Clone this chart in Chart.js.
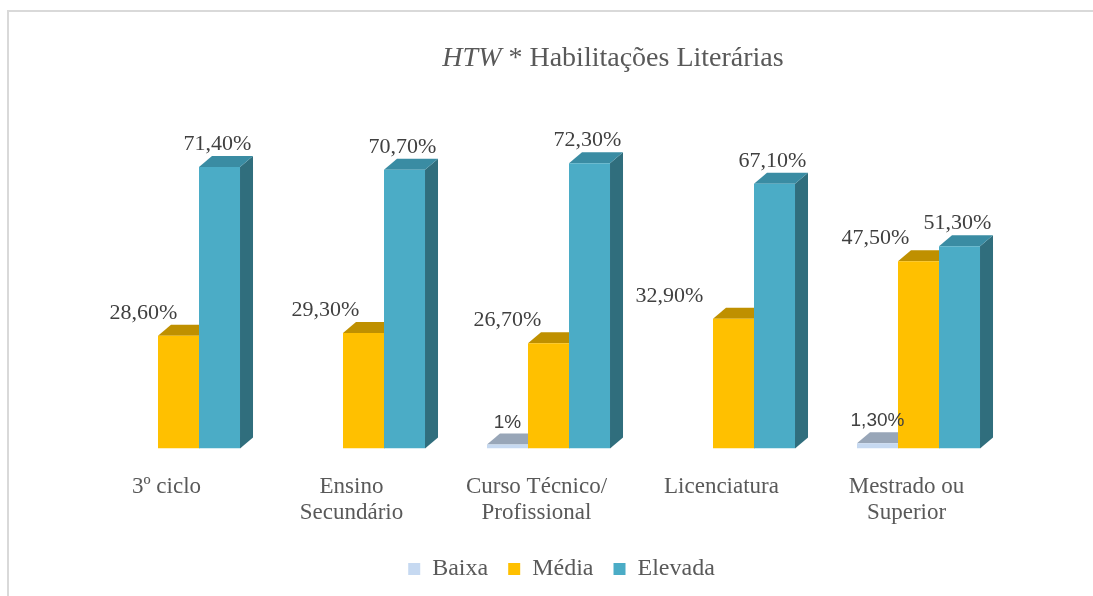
<!DOCTYPE html>
<html>
<head>
<meta charset="utf-8">
<script src="https://cdn.jsdelivr.net/npm/chart.js@4/dist/chart.umd.min.js"></script>
<style>
  html, body { margin: 0; padding: 0; background: #fff; }
  #wrap { position: relative; width: 1093px; height: 596px; }
</style>
</head>
<body>
<div id="wrap"><canvas id="chart"></canvas></div>
<script>
// --- dados ---
const categories = [
  '3º ciclo',
  ['Ensino', 'Secundário'],
  ['Curso Técnico/', 'Profissional'],
  'Licenciatura',
  ['Mestrado ou', 'Superior']
];
const baixa   = [null, null, 1.0, null, 1.3];
const media   = [28.6, 29.3, 26.7, 32.9, 47.5];
const elevada = [71.4, 70.7, 72.3, 67.1, 51.3];
const seriesNames = ['Baixa', 'Média', 'Elevada'];

// deslocamento horizontal dos rótulos de "Média" (px)
const mediaLabelDx = [-35, -38, -41, -64, -43];

const SERIF = '"Liberation Serif", "Times New Roman", serif';
const DEPTH_X = 13, DEPTH_Y = 11;

const faceColors = [
  { front: '#C6D9F1', top: '#98A6B8', side: '#8C9AAE' },
  { front: '#FFC000', top: '#BF9000', side: '#A67D00' },
  { front: '#4BACC6', top: '#3A8CA3', side: '#306E7D' }
];

function fmt(v) {
  if (v === 1) return '1%';
  return v.toFixed(2).replace('.', ',') + '%';
}

// faces laterais/topo desenhadas por trás das frentes
const bars3d = {
  id: 'bars3d',
  beforeDatasetsDraw(chart) {
    const ctx = chart.ctx;
    ctx.save();
    chart.data.datasets.forEach((ds, i) => {
      const meta = chart.getDatasetMeta(i);
      meta.data.forEach((bar, j) => {
        if (ds.data[j] == null) return;
        const w = bar.width;
        const l = bar.x - w / 2, r = bar.x + w / 2;
        const t = bar.y, b = bar.base;
        ctx.fillStyle = faceColors[i].side;
        ctx.beginPath();
        ctx.moveTo(r, t);
        ctx.lineTo(r + DEPTH_X, t - DEPTH_Y);
        ctx.lineTo(r + DEPTH_X, b - DEPTH_Y);
        ctx.lineTo(r, b);
        ctx.closePath();
        ctx.fill();
        ctx.fillStyle = faceColors[i].top;
        ctx.beginPath();
        ctx.moveTo(l, t);
        ctx.lineTo(l + DEPTH_X, t - DEPTH_Y);
        ctx.lineTo(r + DEPTH_X, t - DEPTH_Y);
        ctx.lineTo(r, t);
        ctx.closePath();
        ctx.fill();
      });
    });
    ctx.restore();
  }
};

// rótulos de dados
const valueLabels = {
  id: 'valueLabels',
  afterDatasetsDraw(chart) {
    const ctx = chart.ctx;
    ctx.save();
    ctx.textAlign = 'center';
    ctx.textBaseline = 'alphabetic';
    ctx.fillStyle = '#404040';
    chart.data.datasets.forEach((ds, i) => {
      const meta = chart.getDatasetMeta(i);
      meta.data.forEach((bar, j) => {
        const v = ds.data[j];
        if (v == null) return;
        let dx = 0;
        if (i === 0) ctx.font = '19px "Liberation Sans", Arial, sans-serif';
        else ctx.font = '22px ' + SERIF;
        if (i === 1) dx = mediaLabelDx[j];
        if (i === 2) dx = -2;
        ctx.fillText(fmt(v), bar.x + dx, bar.y - 17);
      });
    });
    ctx.restore();
  }
};

// título com "HTW" em itálico + moldura; legenda um pouco à direita
const titleAndFrame = {
  id: 'titleAndFrame',
  afterLayout(chart) {
    if (chart.legend) {
      chart.legend.left += 13;
      chart.legend.right += 13;
    }
  },
  beforeDraw(chart) {
    const ctx = chart.ctx;
    ctx.save();
    ctx.fillStyle = '#fff';
    ctx.fillRect(0, 0, chart.width, chart.height);
    ctx.strokeStyle = '#D9D9D9';
    ctx.lineWidth = 2;
    ctx.beginPath();
    ctx.moveTo(8, chart.height);
    ctx.lineTo(8, 11);
    ctx.lineTo(chart.width, 11);
    ctx.stroke();
    ctx.restore();
  },
  afterDraw(chart) {
    const ctx = chart.ctx;
    ctx.save();
    ctx.fillStyle = '#595959';
    ctx.textBaseline = 'alphabetic';
    const italic = 'italic 28px ' + SERIF;
    const normal = '28px ' + SERIF;
    const part1 = 'HTW', part2 = ' * Habilitações Literárias';
    ctx.font = italic;
    const w1 = ctx.measureText(part1).width;
    ctx.font = normal;
    const w2 = ctx.measureText(part2).width;
    const cx = 613, y = 66;
    const x0 = cx - (w1 + w2) / 2;
    ctx.textAlign = 'left';
    ctx.font = italic;
    ctx.fillText(part1, x0, y);
    ctx.font = normal;
    ctx.fillText(part2, x0 + w1, y);
    ctx.restore();
  }
};

new Chart(document.getElementById('chart'), {
  type: 'bar',
  data: {
    labels: categories,
    datasets: [
      { label: seriesNames[0], data: baixa,   backgroundColor: faceColors[0].front },
      { label: seriesNames[1], data: media,   backgroundColor: faceColors[1].front },
      { label: seriesNames[2], data: elevada, backgroundColor: faceColors[2].front }
    ]
  },
  options: {
    responsive: true,
    maintainAspectRatio: false,
    animation: false,
    layout: { padding: { left: 86, right: 82, top: 133, bottom: 5 } },
    datasets: {
      bar: { categoryPercentage: 0.665, barPercentage: 1, borderWidth: 0 }
    },
    scales: {
      x: {
        grid: { display: false },
        border: { display: false },
        afterFit(scale) { scale.height -= 7; },
        ticks: {
          color: '#595959',
          font: { family: SERIF, size: 23, lineHeight: 1.12 },
          labelOffset: -12,
          padding: 18,
          maxRotation: 0,
          autoSkip: false
        }
      },
      y: { display: false, min: 0, max: 80 }
    },
    plugins: {
      legend: {
        position: 'bottom',
        labels: {
          color: '#595959',
          font: { family: SERIF, size: 24 },
          boxWidth: 12,
          boxHeight: 12,
          padding: 20
        }
      },
      tooltip: { enabled: false },
      title: { display: false }
    }
  },
  plugins: [titleAndFrame, bars3d, valueLabels]
});
</script>
</body>
</html>
